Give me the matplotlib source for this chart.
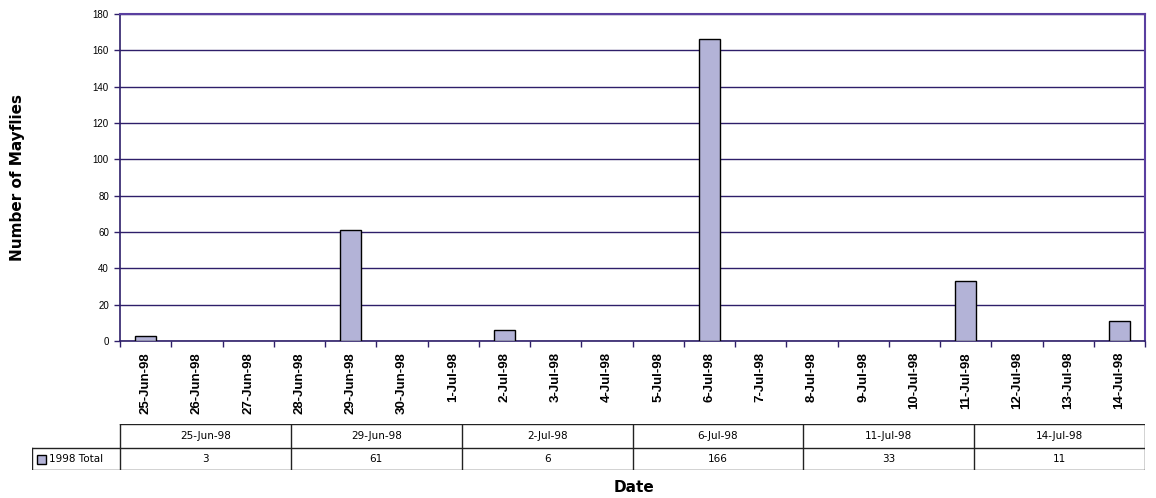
import matplotlib
matplotlib.use("Agg")
import matplotlib.pyplot as plt
from matplotlib.patches import Rectangle

# Daily collection dates on the category axis
dates = ['25-Jun-98', '26-Jun-98', '27-Jun-98', '28-Jun-98', '29-Jun-98',
         '30-Jun-98', '1-Jul-98', '2-Jul-98', '3-Jul-98', '4-Jul-98',
         '5-Jul-98', '6-Jul-98', '7-Jul-98', '8-Jul-98', '9-Jul-98',
         '10-Jul-98', '11-Jul-98', '12-Jul-98', '13-Jul-98', '14-Jul-98']

# Sampling days with counts
sample_dates = ['25-Jun-98', '29-Jun-98', '2-Jul-98', '6-Jul-98', '11-Jul-98', '14-Jul-98']
totals_1998 = [3, 61, 6, 166, 33, 11]
series_name = '1998 Total'

y_ticks = [0, 20, 40, 60, 80, 100, 120, 140, 160, 180]

W, H = 1156, 498
fig = plt.figure(figsize=(W / 100, H / 100), dpi=100)

bar_color = '#b3b3d7'
grid_color = '#2e1f6a'

ax = fig.add_axes([120 / W, 1 - 341 / H, 1025 / W, 327 / H])
positions = [dates.index(d) for d in sample_dates]
ax.bar(positions, totals_1998, width=0.42, color=bar_color,
       edgecolor='black', linewidth=1, zorder=3)

ax.set_xlim(-0.5, len(dates) - 0.5)
ax.set_ylim(y_ticks[0], y_ticks[-1])
ax.set_yticks(y_ticks)
ax.set_yticklabels([str(v) for v in y_ticks], fontsize=7, family='Liberation Sans')
ax.yaxis.grid(True, color=grid_color, linewidth=1, zorder=0)

# Category labels centred, tick marks on category boundaries
ax.set_xticks(range(len(dates)))
ax.set_xticklabels(dates, rotation=90, fontsize=9.5, fontweight='bold',
                   family='Liberation Sans')
ax.tick_params(axis='x', length=0, pad=8)
ax.set_xticks([i - 0.5 for i in range(len(dates) + 1)], minor=True)
ax.tick_params(axis='x', which='minor', length=4, width=1, direction='out',
               color=grid_color)
ax.tick_params(axis='y', length=4, width=1, direction='out', pad=4,
               color=grid_color)

for side in ('top', 'right'):
    ax.spines[side].set_color('#5a3fa0')
    ax.spines[side].set_linewidth(1.5)
for side in ('left', 'bottom'):
    ax.spines[side].set_color(grid_color)
    ax.spines[side].set_linewidth(1.2)

ax.set_ylabel('Number of Mayflies', fontsize=11, fontweight='bold',
              family='DejaVu Sans')
ax.yaxis.set_label_coords(-95 / 1025, 0.5)

# Data table under the chart
tab = fig.add_axes([32 / W, 1 - 470 / H, 1113 / W, 46 / H])
tab.set_xlim(32, 1145)
tab.set_ylim(470, 424)
tab.axis('off')
n = len(sample_dates)
x0, x1 = 120, 1145
cw = (x1 - x0) / n
lc = '#222222'
tab.plot([x0, x1], [424, 424], color=lc, lw=1)
tab.plot([32, x1], [448, 448], color=lc, lw=1)
tab.plot([32, x1], [470, 470], color=lc, lw=1)
tab.plot([32, 32], [448, 470], color=lc, lw=1)
for i in range(n + 1):
    xx = x0 + i * cw
    tab.plot([xx, xx], [424, 470], color=lc, lw=1)
for i, (d, v) in enumerate(zip(sample_dates, totals_1998)):
    cx = x0 + (i + 0.5) * cw
    tab.text(cx, 436, d, ha='center', va='center', fontsize=7.5,
             family='DejaVu Sans')
    tab.text(cx, 459.5, str(v), ha='center', va='center', fontsize=7.5,
             family='DejaVu Sans')
tab.add_patch(Rectangle((37, 455), 9, 9, facecolor=bar_color,
                        edgecolor='black', lw=1))
tab.text(49, 459.5, series_name, ha='left', va='center', fontsize=7.5,
         family='DejaVu Sans')

fig.text(634 / W, 1 - 487 / H, 'Date', ha='center', va='center',
         fontsize=11, fontweight='bold', family='DejaVu Sans')

fig.savefig('out.png', dpi=100)
